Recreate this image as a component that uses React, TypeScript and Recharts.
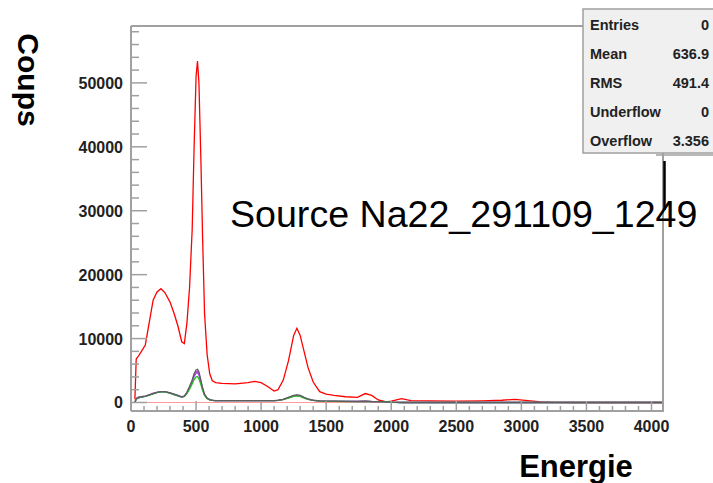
import React from 'react';
import { LineChart, Line, XAxis, YAxis, ReferenceLine } from 'recharts';

const energy = [30, 40, 55, 80, 110, 140, 170, 200, 230, 260, 300, 330, 360, 390, 410, 430, 450, 470, 485, 500, 511, 522, 537, 550, 565, 585, 605, 625, 650, 700, 800, 900, 950, 1000, 1050, 1100, 1130, 1170, 1210, 1250, 1275, 1300, 1330, 1360, 1400, 1450, 1500, 1560, 1650, 1740, 1800, 1850, 1900, 1960, 2000, 2080, 2150, 2300, 2500, 2700, 2850, 2950, 3050, 3150, 3250, 3400, 3600, 3800, 4000, 4096];

const sumCounts = [500, 6800, 7200, 8000, 9000, 12500, 16000, 17300, 17800, 17200, 15700, 14000, 12000, 9500, 9200, 12500, 18000, 27000, 40000, 51000, 53400, 50000, 38000, 26000, 14000, 7500, 4500, 3400, 3100, 3000, 2900, 3100, 3300, 3100, 2500, 1800, 2000, 3500, 6500, 10500, 11600, 10500, 8000, 5500, 3200, 1700, 1300, 1100, 900, 800, 1400, 1100, 400, 100, 200, 600, 300, 250, 200, 250, 350, 500, 300, 100, 30, 0, 0, 0, 0, 0];

const grayCounts = [0, 600, 800, 900, 1000, 1200, 1400, 1600, 1700, 1700, 1500, 1300, 1100, 900, 1000, 1600, 2500, 3500, 4500, 5100, 5200, 4800, 3500, 2300, 1300, 700, 450, 350, 300, 300, 300, 300, 300, 300, 300, 300, 350, 500, 800, 1100, 1200, 1100, 800, 550, 350, 250, 200, 200, 180, 170, 200, 160, 150, 100, 50, 0, 0, 0, 0, 0, 0, 0, 0, 0, 0, 0, 0, 0, 0, 0];
const greenCounts = [0, 550, 750, 850, 950, 1150, 1350, 1550, 1650, 1650, 1450, 1250, 1050, 850, 950, 1400, 2100, 2900, 3600, 4000, 4050, 3700, 2800, 1900, 1100, 600, 400, 320, 280, 280, 280, 280, 280, 280, 280, 280, 320, 450, 700, 950, 1050, 950, 700, 500, 320, 230, 180, 180, 160, 150, 180, 140, 130, 90, 40, 0, 0, 0, 0, 0, 0, 0, 0, 0, 0, 0, 0, 0, 0, 0];
const blueCounts = [0, 500, 700, 850, 950, 1150, 1400, 1600, 1700, 1650, 1450, 1250, 1050, 850, 950, 1500, 2300, 3200, 4100, 4600, 4700, 4300, 3200, 2100, 1200, 650, 420, 330, 290, 290, 290, 290, 290, 290, 290, 290, 330, 480, 750, 1000, 1100, 1000, 750, 520, 330, 240, 190, 190, 170, 160, 190, 150, 140, 95, 45, 0, 0, 0, 0, 0, 0, 0, 0, 0, 0, 0, 0, 0, 0, 0];
const magentaCounts = [0, 650, 800, 900, 1000, 1200, 1450, 1600, 1700, 1700, 1500, 1300, 1100, 900, 1000, 1550, 2400, 3400, 4300, 4800, 4900, 4500, 3300, 2200, 1250, 680, 440, 340, 300, 300, 300, 300, 300, 300, 300, 300, 340, 490, 780, 1050, 1150, 1050, 780, 540, 340, 250, 200, 200, 180, 170, 200, 150, 150, 100, 50, 0, 0, 0, 0, 0, 0, 0, 0, 0, 0, 0, 0, 0, 0, 0];

const xMajorTicks = [0, 500, 1000, 1500, 2000, 2500, 3000, 3500, 4000];
const xMinorTicks = xMajorTicks.flatMap((t) => [t, t + 100, t + 200, t + 300, t + 400]).filter((t) => t <= 4096);
const yMajorTicks = [0, 10000, 20000, 30000, 40000, 50000];
const yMinorTicks = yMajorTicks.flatMap((t) => [t, t + 2000, t + 4000, t + 6000, t + 8000]).filter((t) => t <= 58000);

const statRows = [
  ['Entries', '0'],
  ['Mean', '636.9'],
  ['RMS', '491.4'],
  ['Underflow', '0'],
  ['Overflow', '3.356'],
];

const data = energy.map((e, i) => ({
  e,
  sum: sumCounts[i],
  gray: grayCounts[i],
  green: greenCounts[i],
  blue: blueCounts[i],
  magenta: magentaCounts[i],
}));

const FONT = '"Liberation Sans", Arial, Helvetica, sans-serif';
const AXIS = '#a0a0a0';

const XTick = (props: any) => {
  const { x, y, payload } = props;
  const major = payload.value % 500 === 0;
  return (
    <g>
      <line x1={x} x2={x} y1={y} y2={y - (major ? 10 : 5)} stroke={AXIS} strokeWidth={1.5} />
      {major && (
        <text x={x} y={y + 21} textAnchor="middle" fontFamily={FONT} fontWeight="bold" fontSize={16} fill="#222">
          {payload.value}
        </text>
      )}
    </g>
  );
};

const YTick = (props: any) => {
  const { x, y, payload } = props;
  const major = payload.value % 10000 === 0;
  return (
    <g>
      <line x1={x} x2={x + (major ? 16 : 8)} y1={y} y2={y} stroke={AXIS} strokeWidth={1.5} />
      {major && (
        <text x={x - 8} y={y + 6} textAnchor="end" fontFamily={FONT} fontWeight="bold" fontSize={16} fill="#222">
          {payload.value}
        </text>
      )}
    </g>
  );
};

export default function App() {
  return (
    <div style={{ position: 'absolute', left: 0, top: 0, width: 713, height: 483, background: '#fff', overflow: 'hidden' }}>
      <LineChart width={713} height={483} data={data} margin={{ top: 26, right: 49, bottom: 0, left: 0 }}>
        <XAxis
          dataKey="e"
          type="number"
          domain={[0, 4096]}
          ticks={xMinorTicks}
          interval={0}
          tickSize={0}
          tickMargin={0}
          tickLine={false}
          tick={<XTick />}
          height={72}
          axisLine={{ stroke: AXIS, strokeWidth: 2 }}
        />
        <YAxis
          type="number"
          domain={[-1330, 58900]}
          allowDataOverflow
          ticks={yMinorTicks}
          interval={0}
          tickSize={0}
          tickMargin={0}
          tickLine={false}
          tick={<YTick />}
          width={131}
          axisLine={{ stroke: AXIS, strokeWidth: 2 }}
        />
        <ReferenceLine y={0} stroke="#ff9a9a" strokeWidth={1} />
        <Line dataKey="sum" type="linear" stroke="#ff0000" strokeWidth={1.3} dot={false} isAnimationActive={false} />
        <Line dataKey="blue" type="linear" stroke="#6a4cff" strokeWidth={1.3} dot={false} isAnimationActive={false} />
        <Line dataKey="magenta" type="linear" stroke="#e040e0" strokeWidth={1.3} dot={false} isAnimationActive={false} />
        <Line dataKey="green" type="linear" stroke="#20c020" strokeWidth={1.3} dot={false} isAnimationActive={false} />
        <Line dataKey="gray" type="linear" stroke="#5e5e5e" strokeWidth={1.3} dot={false} isAnimationActive={false} />
      </LineChart>
      <svg width={713} height={483} style={{ position: 'absolute', left: 0, top: 0, pointerEvents: 'none' }}>
        <line x1={131} x2={664} y1={26} y2={26} stroke={AXIS} strokeWidth={2} />
        <line x1={663} x2={663} y1={26} y2={411} stroke={AXIS} strokeWidth={2} />
        <text x={230} y={227} fontFamily={FONT} fontSize={37.6} fill="#000">
          Source Na22_291109_1249
        </text>
        <line x1={664.5} x2={664.5} y1={161} y2={210} stroke="#000" strokeWidth={2.5} />
        <text x={576} y={477} textAnchor="middle" fontFamily={FONT} fontWeight="bold" fontSize={31} fill="#000">
          Energie
        </text>
        <text
          x={0}
          y={0}
          transform="translate(18 80) rotate(90)"
          textAnchor="middle"
          fontFamily={FONT}
          fontWeight="bold"
          fontSize={30}
          fill="#000"
        >
          Coups
        </text>
        <rect x={583} y={9} width={140} height={144} fill="#f0f0f0" stroke="#a0a0a0" strokeWidth={1.5} />
        <line x1={656} x2={713} y1={155} y2={155} stroke={AXIS} strokeWidth={1.5} />
        {statRows.map(([label, value], i) => (
          <g key={label}>
            <text x={590} y={30 + i * 29} fontFamily={FONT} fontWeight="bold" fontSize={14.5} fill="#222">
              {label}
            </text>
            <text x={709} y={30 + i * 29} textAnchor="end" fontFamily={FONT} fontWeight="bold" fontSize={14.5} fill="#222">
              {value}
            </text>
          </g>
        ))}
      </svg>
    </div>
  );
}
